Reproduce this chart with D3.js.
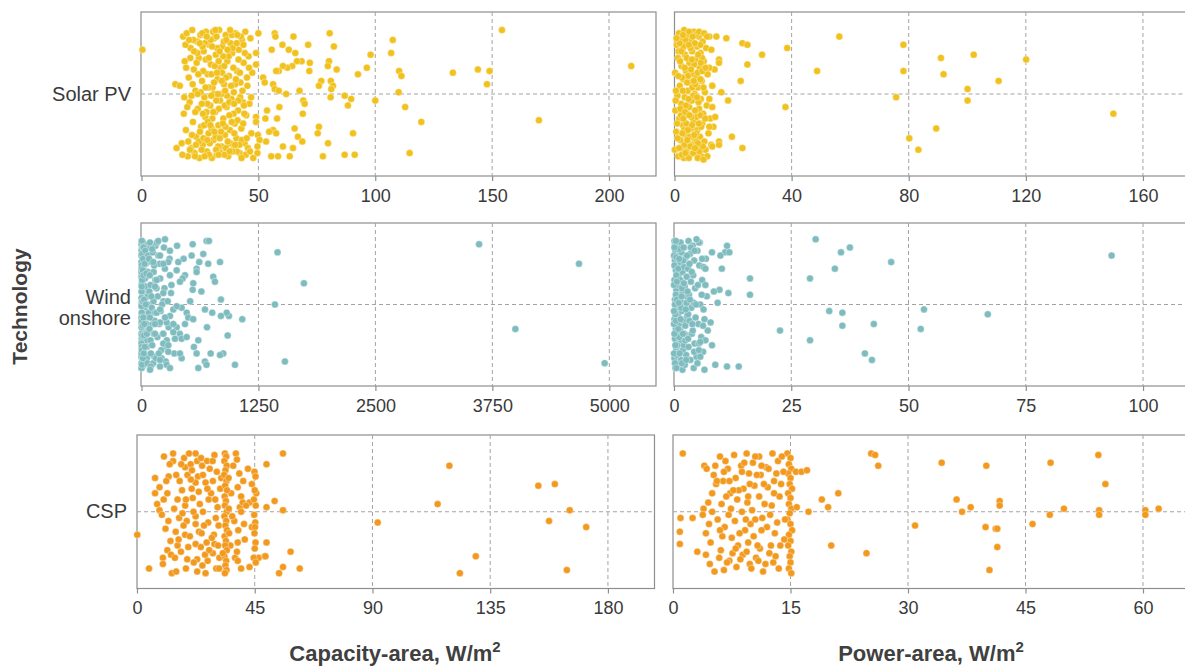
<!DOCTYPE html>
<html>
<head>
<meta charset="utf-8">
<script src="https://cdn.jsdelivr.net/npm/d3@7/dist/d3.min.js"></script>
<style>
  html, body { margin: 0; padding: 0; background: #ffffff; }
  svg { display: block; }
  text { font-family: "Liberation Sans", Arial, sans-serif; }
</style>
</head>
<body>
<svg id="chart" width="1185" height="666"></svg>
<script>
// ---------------- DATA (value, jitter) ----------------
const technologies = ["Solar PV", "Wind onshore", "CSP"];
const techLabelLines = [["Solar PV"], ["Wind", "onshore"], ["CSP"]];
const xTitles = ["Capacity-area, W/m", "Power-area, W/m"];

const ticksSolarCapacity = [0, 50, 100, 150, 200];
const ticksSolarPower = [0, 40, 80, 120, 160];
const ticksWindCapacity = [0, 1250, 2500, 3750, 5000];
const ticksWindPower = [0, 25, 50, 75, 100];
const ticksCspCapacity = [0, 45, 90, 135, 180];
const ticksCspPower = [0, 15, 30, 45, 60];

const solarCapacity = [
[0.4,-0.27],[14.5,-0.06],[15,0.33],
[16.4,-0.05],[17.2,0.30],[17.8,-0.35],[18.1,0.12],[18.5,-0.20],[19.0,0.22],[19.3,-0.37],[19.8,0.38],[20.2,-0.10],[20.6,0.05],
[21.0,-0.28],[21.3,0.33],[21.7,-0.39],[22.0,0.17],[22.4,-0.15],[22.7,0.36],[23.1,-0.02],[23.4,0.26],[23.8,-0.32],[24.1,0.09],
[24.5,-0.22],[24.8,0.39],[25.2,-0.36],[25.5,0.20],[25.9,-0.08],[26.2,0.31],[26.6,-0.26],[26.9,0.02],[27.3,0.14],[27.6,-0.38],
[28.0,0.35],[28.3,-0.12],[28.7,0.24],[29.0,-0.30],[29.4,0.07],[29.7,-0.18],[30.1,0.39],[30.4,-0.04],[30.8,0.28],[31.1,-0.34],
[31.5,0.11],[31.8,-0.24],[32.2,0.37],[32.5,-0.09],[32.9,0.19],[33.2,-0.39],[33.6,0.04],[33.9,-0.16],[34.3,0.32],[34.6,-0.29],
[35.0,0.15],[35.3,-0.06],[35.7,0.25],[36.0,-0.36],[36.4,0.08],[36.7,-0.20],[37.1,0.38],[37.4,-0.11],[37.8,0.22],[38.1,-0.31],
[38.5,0.03],[38.8,-0.25],[39.2,0.34],[39.5,-0.01],[39.9,0.18],[40.2,-0.37],[40.6,0.27],[40.9,-0.14],[41.3,0.10],[41.6,-0.27],
[42.0,0.36],[42.3,-0.07],[42.7,0.21],[43.0,-0.33],[43.4,0.05],[43.7,-0.19],[44.1,0.30],[44.4,-0.38],[44.8,0.13],[45.1,-0.10],
[45.5,0.33],[45.8,-0.23],[46.2,0.06],[46.6,-0.34],[47.0,0.24],[47.4,-0.13],[47.8,0.39],
[22.2,-0.33],[23.0,0.11],[23.9,-0.25],[24.6,0.29],[25.3,-0.01],[26.0,-0.37],[26.8,0.19],[27.5,-0.21],[28.2,0.06],[28.9,0.37],
[29.6,-0.33],[30.3,0.15],[31.0,-0.07],[31.7,0.26],[32.4,-0.28],[33.1,0.09],[33.8,0.36],[34.5,-0.13],[35.2,-0.32],[35.9,0.20],
[36.6,0.01],[37.3,-0.23],[38.0,0.30],[38.7,-0.36],[39.4,0.12],[40.1,-0.06],[40.8,0.35],[41.5,-0.21],[42.2,0.02],[42.9,0.28],
[43.6,-0.30],[19.6,0.08],[20.9,-0.22],[21.6,0.25],[18.8,-0.30],[17.5,0.37],
[24.0,0.00],[25.7,0.34],[27.1,-0.31],[28.6,-0.04],[30.0,0.21],[31.4,-0.17],[32.8,0.32],[34.1,0.00],[34.9,-0.23],[35.5,0.37],
[36.2,-0.10],[37.6,0.13],[38.3,-0.05],[39.0,-0.28],[39.7,0.24],[33.4,-0.26],[32.0,0.04],[30.6,-0.38],[29.2,0.30],[27.8,0.11],
[26.4,-0.14],[25.0,0.23],[23.6,-0.19],[22.9,0.38],[21.4,0.01],[20.0,0.29],[41.1,0.16],[43.2,-0.02],[44.6,0.37],[46.0,-0.16],
[36.9,0.29],[35.6,0.07],[34.0,0.23],[33.0,-0.20],[31.9,0.34],[30.9,0.00],[29.9,-0.12],[28.4,0.17],[27.0,0.38],[26.1,-0.29],
[37.9,-0.39],[38.9,0.35],[40.4,-0.09],[41.9,0.31],[42.5,-0.35],[44.0,0.12],[45.3,-0.05],[46.9,0.02],
[20.4,-0.33],[21.9,-0.06],[23.3,0.31],[24.3,-0.12],[25.8,0.06],[26.5,0.27],[27.4,-0.04],[28.8,-0.22],[29.5,0.19],[30.2,-0.29],
[31.2,0.23],[32.1,-0.35],[32.7,0.00],[33.5,0.27],[34.4,-0.08],[35.4,-0.17],[36.1,0.33],[36.8,-0.27],[37.5,0.05],[38.6,0.17],
[39.3,-0.16],[40.0,0.31],[40.7,-0.31],[41.4,0.04],[42.1,-0.13],[42.8,0.39],[43.5,0.18],[44.2,-0.25],[45.0,0.27],[46.4,0.35],
[19.1,-0.16],[18.3,0.02],[20.7,0.34],[22.5,-0.26],[24.9,-0.31],[26.3,0.12],[28.1,0.28],[29.8,0.01],[31.6,-0.39],[33.0,0.37],
[34.8,0.18],[36.3,-0.33],[37.7,0.35],[39.6,0.06],[41.0,-0.36],[43.8,0.07],[30.7,0.11],[32.3,-0.13],[35.8,-0.02],[27.9,-0.35],
[50,-0.37],[49,-0.25],[49,-0.18],[57,-0.37],[57.3,-0.35],[60.3,-0.30],[55.7,-0.27],[63,-0.27],[65,-0.35],[65.8,-0.25],
[71.3,-0.30],[68.5,-0.20],[66.5,-0.2],[64.5,-0.17],[62.4,-0.16],[60.5,-0.17],[58.7,-0.14],[57.6,-0.14],[71.8,-0.14],[72,-0.19],
[80.5,-0.37],[82.3,-0.29],[80.2,-0.2],[79.7,-0.17],[83.5,-0.15],[92.6,-0.12],[96.4,-0.16],[98,-0.24],[76.9,-0.08],[75.9,-0.05],
[81,-0.08],[81.9,-0.05],[81.2,-0.03],[52,-0.1],[52.7,-0.07],[56.3,-0.06],[57,-0.03],[58.7,-0.02],[61.9,0.0],[67.6,-0.02],
[69.2,0.04],[69.8,0.06],[86.9,0.01],[89.7,0.03],[88.3,0.07],[80.9,0.02],[100,0.04],[59,0.08],[53.7,0.1],[53,0.15],
[49,0.14],[49,0.17],[58,0.15],[69,0.12],[65.5,0.21],[75.9,0.2],[75.4,0.24],[56.3,0.22],[57.6,0.24],[54.6,0.23],
[49.8,0.25],[50.5,0.28],[53.3,0.29],[66.9,0.26],[68.8,0.29],[60.5,0.32],[64.8,0.33],[79.8,0.30],[90.5,0.24],[86.9,0.37],
[91.2,0.37],[77.6,0.38],[63.4,0.38],[58.4,0.38],[55.5,0.38],[49.6,0.36],[49.6,0.32],
[107.5,-0.33],[106.8,-0.25],[110.2,-0.14],[111.2,-0.11],[110,-0.01],[112.8,0.08],[119.7,0.17],[114.7,0.36],
[133.2,-0.13],[143.9,-0.15],[148.9,-0.14],[147.8,-0.06],[154.2,-0.39],[170,0.16],[209.5,-0.17]
];

const solarPower = [
[0.2,-0.13],[0.3,0.10],[0.1,0.34],[0.6,0.23],[0.8,-0.30],[1.0,0.01],[1.2,-0.22],[1.3,0.38],[1.5,-0.37],[1.6,0.15],
[1.8,-0.05],[2.0,0.28],[2.1,-0.34],[2.3,0.06],[2.4,-0.17],[2.6,0.33],[2.7,-0.27],[2.9,0.19],[3.0,-0.09],[3.2,0.39],
[3.3,-0.39],[3.5,0.02],[3.6,-0.24],[3.8,0.25],[3.9,-0.14],[4.1,0.35],[4.2,-0.31],[4.4,0.12],[4.5,-0.02],[4.7,0.30],
[4.8,-0.36],[5.0,0.08],[5.1,-0.19],[5.3,0.37],[5.4,-0.07],[5.6,0.21],[5.7,-0.33],[5.9,0.04],[6.0,-0.26],[6.2,0.31],
[6.3,-0.12],[6.5,0.17],[6.6,-0.38],[6.8,0.27],[6.9,0.00],[7.1,-0.21],[7.2,0.36],[7.4,-0.10],[7.5,0.14],[7.7,-0.29],
[7.8,0.22],[8.0,-0.04],[8.1,0.33],[8.3,-0.35],[8.4,0.09],[8.6,-0.16],[8.7,0.26],[8.9,-0.25],[9.0,0.03],[9.2,0.38],
[9.3,-0.08],[9.5,0.18],[9.6,-0.32],[9.8,0.12],[10.0,-0.20],[10.2,0.29],[10.4,-0.01],[10.6,0.34],[10.8,-0.28],[11.0,0.07],
[11.3,-0.12],[11.6,0.24],[11.9,-0.35],[12.2,0.15],[12.5,0.31],[12.9,-0.05],[13.3,0.20],[13.7,-0.15],
[1.1,0.27],[1.9,-0.20],[2.2,0.13],[2.8,-0.02],[3.4,0.31],[3.7,-0.33],[4.0,0.18],[4.6,-0.11],[4.9,0.39],[5.5,-0.28],
[5.8,0.14],[6.1,-0.04],[6.4,0.36],[6.7,-0.18],[7.0,0.10],[7.3,-0.36],[7.6,0.29],[7.9,-0.13],[8.2,0.05],[8.5,0.35],
[8.8,-0.30],[9.1,0.20],[9.4,-0.22],[9.7,0.32],[0.5,-0.02],[2.5,0.37],[3.1,-0.29],[5.2,0.26],[6.9,-0.31],[8.4,-0.38],
[4.3,-0.07],[3.9,0.07],[5.6,-0.15],[6.4,0.01],[2.6,-0.10],[7.4,0.24],[8.9,0.13],[1.4,-0.26],[10.1,-0.37],[11.2,0.38],
[3.3,0.22],[4.4,0.28],[5.0,-0.38],[6.0,0.19],[7.1,-0.06],[2.0,0.09],[8.0,0.30],[9.5,-0.14],[10.5,0.15],[4.8,0.03],
[0.4,0.04],[0.9,0.18],[1.7,-0.31],[2.9,-0.36],[3.6,0.11],[4.2,-0.22],[4.6,0.22],[5.4,0.32],[5.9,-0.21],[6.6,-0.08],
[7.0,0.33],[7.7,0.02],[8.3,0.18],[8.9,-0.09],[9.9,-0.04],[1.3,-0.11],[2.3,-0.26],[3.0,0.15],[3.7,0.36],[4.9,-0.30],
[6.2,-0.35],[7.9,0.39],[9.0,-0.19],[0.7,-0.34],[1.6,0.33],[2.7,0.24],[5.1,0.13],[6.7,0.25],[3.5,-0.16],[8.1,-0.24],
[11.1,-0.35],[14.3,-0.35],[17.7,-0.34],[23.2,-0.31],[24.9,-0.30],[29.9,-0.24],[38.5,-0.28],[24.9,-0.18],[22.6,-0.08],[16,-0.01],
[18.3,0.04],[37.9,0.08],[19.6,0.26],[23.2,0.33],[9.9,0.40],[12.6,-0.27],[15.2,-0.21],[15.2,-0.19],[11.9,-0.16],[10.6,-0.16],
[12.9,-0.05],[11.9,0.03],[12.9,0.08],[13.9,0.14],[11.9,0.2],[15.2,0.29],[15.2,0.31],[12.9,0.32],
[48.7,-0.14],[56.3,-0.35],[78.2,-0.30],[78.2,-0.14],[75.7,0.02],[80.2,0.27],[83.3,0.34],[89.4,0.21],[91,-0.22],[91.9,-0.12],
[102.2,-0.24],[100.1,-0.03],[100.1,0.04],[110.7,-0.08],[120.1,-0.21],[149.9,0.12]
];

const windCapacity = [
[2,-0.39],[8,-0.36],[15,-0.33],[4,-0.30],[22,-0.27],[10,-0.24],[30,-0.21],[6,-0.18],[18,-0.15],[1,-0.12],
[26,-0.09],[12,-0.06],[35,-0.03],[3,0.00],[20,0.03],[9,0.06],[28,0.09],[5,0.12],[16,0.15],[40,0.18],
[2,0.21],[24,0.24],[11,0.27],[32,0.30],[7,0.33],[19,0.36],[1,0.39],
[14,-0.38],[3,-0.34],[27,-0.31],[9,-0.28],[45,-0.25],[0,-0.22],[17,-0.19],[38,-0.16],[6,-0.13],
[23,-0.10],[50,-0.07],[13,-0.04],[2,-0.01],[33,0.02],[8,0.05],[44,0.08],[1,0.11],[21,0.14],[10,0.17],
[29,0.20],[4,0.23],[55,0.26],[15,0.29],[0,0.32],[36,0.35],[12,0.38],
[60,-0.35],[70,-0.20],[65,0.00],[75,0.16],[58,0.33],[48,-0.29],[52,0.12],[42,-0.11],[62,0.22],[68,-0.05],
[5,-0.26],[25,0.37],[31,-0.37],[18,0.27],[0,0.01],[0,-0.30],[0,0.18],[1,-0.17],[3,0.30],[6,-0.08],
[0,-0.37],[1,-0.33],[0,-0.26],[2,-0.24],[0,-0.20],[1,-0.08],[0,-0.04],[2,0.05],[0,0.08],[1,0.14],
[0,0.24],[2,0.26],[0,0.36],[1,0.30],[0,0.39],
[5,-0.39],[7,-0.31],[4,-0.22],[6,-0.15],[8,-0.02],[5,0.10],[7,0.19],[4,0.28],[6,0.37],[3,-0.11],
[12,-0.35],[14,-0.21],[11,-0.02],[13,0.13],[15,0.33],[17,-0.28],[19,0.08],[22,-0.18],[24,0.30],[27,-0.03],
[30,0.12],[33,-0.25],[36,0.26],[26,0.19],[21,-0.35],
[40,-0.33],[46,0.00],[52,-0.19],[58,0.18],[64,0.36],[72,-0.30],[78,0.05],[84,-0.08],[96,0.22],[108,-0.26],
[118,0.12],[128,-0.02],[138,0.32],[148,-0.15],[175,-0.05],[195,-0.25],[215,0.33],[235,-0.02],[265,0.26],[320,-0.12],
[350,0.30],[380,-0.36],[410,0.18],[450,-0.28],[520,-0.02],[560,0.26],[640,-0.08],[700,0.14],
[91,-0.38],[80,-0.28],[95,-0.12],[110,0.02],[85,0.15],[100,0.30],[120,-0.32],[130,-0.20],[105,-0.05],[140,0.10],
[115,0.25],[125,0.36],[150,-0.36],[160,-0.10],[145,0.05],[170,0.20],[135,-0.24],[155,0.33],[90,0.08],[180,-0.30],
[190,0.12],[200,-0.16],[210,0.28],[220,0.00],[240,-0.35],[230,0.18],[250,-0.22],[260,0.35],[280,-0.02],[270,0.22],
[115,-0.34],[98,0.38],[88,-0.18],[132,0.18],[165,-0.38],[205,0.04],[245,-0.10],[290,0.14],[300,-0.28],[185,0.30],
[1454,-0.32],[1736,-0.13],[1426,0.0],[1533,0.35],[1077,0.09],[999,0.37],[921,0.19],[874,0.30],[839,0.31],[839,-0.26],
[849,-0.03],[934,0.07],[910,0.05],[849,0.07],[756,0.05],[678,0.03],[739,0.30],[767,-0.17],[785,-0.14],[696,-0.39],
[721,-0.39],[660,-0.31],[713,-0.25],[617,-0.26],[589,-0.22],[589,-0.20],[547,-0.37],[536,-0.30],[553,-0.13],[547,-0.09],
[465,-0.18],[440,-0.16],[411,-0.14],[393,-0.26],[376,-0.21],[304,-0.33],[286,-0.26],[304,-0.18],[315,-0.07],[233,-0.07],
[179,-0.39],[251,-0.40],[198,-0.30],[233,-0.25],[126,-0.26],[162,-0.15],[144,-0.11],
[429,0.02],[483,0.05],[500,0.08],[553,0.09],[465,0.12],[376,0.14],[340,0.17],[358,0.21],[429,0.21],[483,0.20],
[607,0.22],[589,0.30],[678,0.35],[695,0.37],[607,0.39],[429,0.33],[411,0.30],[286,0.29],[269,0.37],[198,0.38],
[304,0.39],[198,0.34],[91,0.40],[233,0.24],[286,0.25],[269,0.11],[233,0.18],[144,0.18],[162,0.05],[198,0.03],
[340,0.03],[376,0.01],[304,0.07],[251,0.08],[198,0.11],[144,0.12],[340,0.12],
[3608,-0.37],[4676,-0.25],[3996,0.15],[4950,0.36]
];

const windPower = [
[0.1,-0.39],[0.3,-0.33],[0.2,-0.27],[0.4,-0.21],[0.1,-0.15],[0.5,-0.09],[0.2,-0.03],[0.3,0.03],[0.1,0.09],[0.4,0.15],
[0.2,0.21],[0.5,0.27],[0.1,0.33],[0.3,0.39],
[0.7,-0.36],[0.9,-0.30],[0.6,-0.24],[1.0,-0.18],[0.8,-0.12],[1.1,-0.06],[0.7,0.00],[0.9,0.06],[1.2,0.12],[0.6,0.18],
[1.0,0.24],[0.8,0.30],[1.1,0.36],
[1.4,-0.38],[1.6,-0.32],[1.3,-0.26],[1.8,-0.20],[1.5,-0.14],[1.9,-0.08],[1.4,-0.02],[1.7,0.04],[2.0,0.10],[1.3,0.16],
[1.6,0.22],[1.9,0.28],[1.5,0.34],[1.8,0.40],
[2.2,-0.35],[2.5,-0.29],[2.1,-0.23],[2.7,-0.17],[2.3,-0.11],[2.6,-0.05],[2.2,0.01],[2.8,0.07],[2.4,0.13],[2.9,0.19],
[2.1,0.25],[2.6,0.31],[2.3,0.37],
[3.1,-0.39],[3.4,-0.31],[3.0,-0.22],[3.6,-0.14],[3.2,-0.06],[3.7,0.02],[3.3,0.10],[3.8,0.18],[3.1,0.26],[3.5,0.34],
[4.0,-0.36],[4.3,-0.27],[4.1,-0.18],[4.5,-0.10],[4.2,-0.01],[4.6,0.08],[4.0,0.16],[4.4,0.24],[4.8,0.32],[4.2,0.39],
[5.0,-0.33],[5.4,-0.24],[5.1,-0.12],[5.6,0.00],[5.2,0.12],[5.8,0.20],[5.0,0.36],[6.0,-0.15],[6.5,0.09],[7.0,-0.05],
[6.2,0.29],[7.2,0.16],[5.5,-0.38],[6.8,-0.28],
[0.2,-0.36],[0.5,-0.18],[0.3,0.06],[0.6,0.31],[1.2,-0.34],[1.5,0.02],[2.0,-0.27],[2.4,0.22],[3.0,0.06],[3.6,-0.35],
[1.1,0.20],[2.7,-0.01],[0.4,-0.06],[0.8,0.37],[1.7,-0.10],
[0.0,-0.30],[0.1,-0.24],[0.0,-0.12],[0.2,0.00],[0.0,0.12],[0.1,0.18],[0.0,0.30],[0.2,0.36],[0.1,-0.35],[0.0,0.04],
[0.4,-0.39],[0.5,-0.29],[0.6,-0.03],[0.4,0.10],[0.7,0.25],[0.5,0.39],[0.9,-0.22],[1.0,-0.01],[0.9,0.15],[1.3,-0.15],
[1.2,0.30],[1.6,-0.05],[1.4,0.09],[1.7,0.36],[2.0,-0.35],[2.1,-0.13],[2.2,0.18],[2.5,0.03],[2.8,-0.30],[2.6,0.34],
[3.3,-0.25],[3.0,0.21],[3.4,-0.03],[3.9,0.12],[3.8,-0.20],[4.4,-0.33],[4.7,0.00],[4.3,0.29],[5.3,0.24],[5.9,-0.06],
[1.1,-0.28],[0.3,0.25],[1.9,0.18],[2.9,-0.08],[0.6,-0.14],
[11.3,-0.36],[10.9,-0.32],[11.8,-0.32],[9.9,-0.30],[8.1,-0.32],[10.2,-0.22],[16.2,-0.16],[16.2,-0.06],[11.6,-0.07],[9.7,-0.09],
[8.5,-0.08],[9.3,-0.01],[22.6,0.16],[7.8,0.11],[6.2,0.13],[8.1,0.25],[8.8,0.37],[11.3,0.38],[13.8,0.38],[6.5,0.40],
[6.7,0.22],[5.6,0.23],[5.3,0.28],[5.6,0.32],[6.3,0.03],[6.7,-0.12],[6.3,-0.23],[6.7,-0.22],[6.0,-0.28],[5.3,-0.38],[4.8,-0.40],
[30.2,-0.40],[29.0,-0.16],[29.0,0.22],[34.3,-0.22],[35.6,-0.32],[37.5,-0.35],[46.3,-0.26],[33.1,0.04],[35.9,0.05],[35.9,0.13],
[42.6,0.12],[40.7,0.30],[42.2,0.34],[53.3,0.03],[52.6,0.15],[66.9,0.06],[93.3,-0.30]
];

const cspCapacity = [
[0.1,0.15],[4.6,0.37],
[10.3,-0.36],[13.8,-0.38],[13.8,-0.33],[12.5,-0.31],[15.0,-0.24],[12.1,-0.23],[6.9,-0.22],[8.6,-0.16],[6.9,-0.12],[10.2,-0.08],
[7.7,-0.05],[8.6,-0.01],[9.5,0.02],[12.0,0.06],[10.9,0.11],[11.6,0.25],[9.9,0.30],[9.9,0.34],[13.3,0.40],[15.0,0.39],
[13.0,0.28],[15.5,0.22],[15.9,0.18],[14.8,0.13],[16.1,0.04],[15.5,-0.08],[17.4,0.01],[18.4,-0.04],[16.3,-0.20],[18.4,-0.29],
[18.0,-0.35],[19.9,-0.38],[22.4,-0.38],[20.5,-0.31],[19.3,-0.24],[20.9,-0.15],[18.7,-0.08],[19.0,0.06],[18.4,0.15],[16.8,0.26],
[18.7,0.37],[23.0,-0.33],[24.9,-0.30],[23.3,-0.23],[22.4,-0.19],[21.3,-0.09],[24.0,-0.05],[22.4,0.03],[22.4,0.08],[23.7,0.13],
[22.4,0.21],[23.0,0.31],[23.0,0.39],[26.2,0.40],[26.0,0.28],[26.6,0.20],[27.2,0.07],[25.2,0.00],[26.2,-0.19],[27.4,-0.08],
[25.2,-0.24],[29.0,-0.20],[29.6,-0.37],[29.4,0.15],[29.6,0.21],[29.0,0.27],[30.3,0.37],
[21.0,-0.27],[24.5,-0.35],[27.8,-0.28],[20.2,0.16],[25.6,0.09],[28.3,-0.12],[21.7,0.33],[27.0,0.32],[30.8,-0.03],[31.2,0.09],
[30.5,-0.26],[31.5,0.30],[17.2,-0.14],[19.6,0.23],[14.2,-0.02],[11.2,-0.20],[28.6,0.17],[24.4,0.23],[26.8,-0.33],[31.8,-0.15],
[12.8,0.19],[16.9,-0.31],[19.2,0.31],[21.6,0.00],[23.6,-0.13],[25.0,0.35],[27.6,0.25],[28.9,-0.33],[30.1,0.04],[31.0,0.22],
[17.8,0.09],[20.6,-0.21],[24.7,0.14],[26.9,-0.15],[29.9,-0.08],[32.2,-0.22],[31.4,0.37],[36.0,-0.12],[37.5,0.30],[40.9,0.08],
[42.4,-0.28],[35.7,0.22],[39.3,-0.03],[14.5,0.30],[11.6,-0.12],
[33.6,-0.38],[34.1,-0.36],[33.4,-0.33],[34.3,-0.30],[33.8,-0.27],[33.3,-0.24],[34.2,-0.20],[33.7,-0.17],[34.4,-0.14],[33.5,-0.10],
[34.0,-0.07],[33.6,-0.04],[34.3,0.00],[33.4,0.03],[34.1,0.06],[33.8,0.09],[34.4,0.12],[33.5,0.16],[34.0,0.19],[33.7,0.22],
[34.3,0.25],[33.4,0.29],[34.1,0.32],[33.8,0.35],[34.2,0.38],[33.6,0.40],[35.0,-0.22],[35.2,0.14],[32.8,0.27],[35.1,-0.02],
[37.8,-0.38],[38.2,-0.34],[39.1,-0.25],[38.5,-0.16],[39.8,-0.10],[40.4,-0.06],[43.0,-0.06],[43.9,-0.18],[41.7,-0.04],[39.8,0.0],
[37.2,0.06],[38.7,0.12],[38.5,0.20],[38.2,0.26],[38.5,0.32],[39.8,0.37],[43.0,0.36],[43.9,0.10],[45.6,-0.12],[46.5,0.30],
[48.8,0.29],[36.8,-0.30],[41.2,0.18],[36.4,0.03],[40.6,-0.20],
[44.9,-0.26],[45.3,-0.23],[45.0,-0.14],[44.7,-0.08],[45.4,-0.04],[44.8,0.02],[45.2,0.07],[45.1,0.10],[44.9,0.14],[45.3,0.20],
[45.0,0.24],[44.6,0.30],[45.4,0.33],
[55.8,-0.38],[49.5,-0.31],[52.6,-0.07],[55.8,-0.01],[49.5,-0.03],[58.7,0.26],[55.8,0.36],[54.3,0.40],[62.2,0.37],[49.5,0.20],
[49.1,0.29],[92,0.07],
[119.4,-0.30],[114.9,-0.05],[129.5,0.29],[123.4,0.40],[153.4,-0.17],[159.7,-0.18],[165.4,-0.01],[157.5,0.06],[171.7,0.10],[164.3,0.38]
];

const cspPower = [
[1.25,-0.38],[0.96,0.04],[0.87,0.13],[0.87,0.21],[2.5,0.04],[3.1,0.26],
[4.0,-0.30],[4.3,-0.28],[5.2,-0.24],[5.5,-0.18],[5.0,-0.12],[4.5,-0.06],[3.9,-0.02],[3.8,0.02],[4.6,0.08],[4.2,0.14],
[4.8,0.20],[4.2,0.28],[4.7,0.34],[5.3,0.39],
[14.6,-0.38],[15.0,-0.35],[14.8,-0.31],[15.1,-0.28],[14.7,-0.25],[15.0,-0.22],[14.9,-0.18],[15.2,-0.15],[14.7,-0.12],[15.0,-0.09],
[14.8,-0.05],[15.1,-0.02],[14.9,0.01],[14.6,0.05],[15.0,0.08],[15.2,0.12],[14.8,0.15],[15.0,0.19],[14.7,0.22],[15.1,0.26],
[14.9,0.29],[15.0,0.33],[14.8,0.37],[15.1,0.40],
[6.0,-0.36],[6.4,-0.20],[6.2,-0.05],[6.6,0.10],[6.1,0.25],[6.5,0.38],[7.0,-0.28],[7.3,-0.12],[7.1,0.02],[7.5,0.17],
[7.2,0.32],[7.8,-0.37],[8.0,-0.22],[8.2,-0.08],[7.9,0.06],[8.3,0.22],[8.1,0.36],[8.7,-0.30],[9.0,-0.15],[8.8,0.00],
[9.2,0.12],[8.9,0.28],[9.4,-0.38],[9.7,-0.25],[9.5,-0.06],[9.9,0.08],[9.6,0.20],[9.8,0.34],[10.2,-0.32],[10.4,-0.17],
[10.1,-0.01],[10.5,0.05],[10.3,0.16],[10.6,0.30],[11.0,-0.36],[11.2,-0.24],[11.0,-0.10],[11.4,0.04],[11.1,0.24],[11.5,0.39],
[11.9,-0.29],[12.1,-0.16],[12.0,0.10],[12.3,0.27],[12.7,-0.38],[12.9,-0.20],[12.6,-0.04],[13.0,0.14],[12.8,0.33],[13.4,-0.33],
[13.6,-0.10],[13.3,0.07],[13.7,0.22],[13.5,0.37],[14.1,-0.26],[14.2,0.18],[5.7,0.05],[5.9,0.30],[6.8,-0.10],[7.6,0.27],
[8.5,0.14],[9.1,-0.32],[10.8,0.22],[11.7,-0.05],[12.4,0.02],[13.8,-0.18],[6.3,0.16],[8.4,-0.14],[10.0,0.37],[7.4,-0.02],
[9.3,0.05],[11.3,0.12],[12.2,-0.28],[13.1,0.29],[5.4,-0.30],[6.7,-0.33],[8.6,0.31],[10.7,-0.24],[9.6,-0.10],[11.8,0.34],
[5.0,0.00],[6.0,0.12],[7.2,-0.20],[8.0,0.24],[9.4,0.26],[10.5,-0.36],[11.6,-0.18],[12.5,0.22],[13.9,-0.36],[14.3,0.05],
[5.6,-0.20],[6.9,0.33],[8.8,-0.26],[10.9,0.32],[12.9,-0.12],[13.2,-0.25],[9.8,-0.18],[7.7,-0.14],[11.3,-0.30],[6.5,-0.26],
[15.7,-0.26],[15.8,-0.03],
[16.4,-0.26],[17.1,-0.27],[17.3,0.0],[19.0,-0.08],[19.8,-0.03],[21.1,-0.12],[20.2,0.22],[24.7,0.27],[25.3,-0.38],[25.8,-0.37],
[26.2,-0.30],[30.9,0.09],[34.3,-0.32],[36.2,-0.08],[36.9,0.0],[38.0,-0.03],[40.0,-0.30],[39.9,0.10],[41.2,0.11],[41.4,0.11],
[41.7,-0.07],[41.7,-0.04],[41.4,0.23],[40.4,0.38],[45.9,0.08],[48.2,-0.32],[48.1,0.02],[49.9,-0.02],[54.3,-0.37],[55.2,-0.18],
[54.4,-0.01],[54.4,0.02],[60.3,-0.01],[60.3,0.02],[62.0,-0.02]
];

// ---------------- LAYOUT ----------------
const colors = ["#F1C21F", "#7FBCBF", "#F29A1F"];
const rows = [
  { top: 12,  bottom: 176,   labelY: [100.5],      left: { x0: 141,   x1: 656,    r0: 141.5 }, right: { x0: 674.5, x1: 1189.5, r0: 674.5 } },
  { top: 223, bottom: 386,   labelY: [304, 325],   left: { x0: 141,   x1: 656,    r0: 141.5 }, right: { x0: 674,   x1: 1189,   r0: 674 } },
  { top: 435, bottom: 588.5, labelY: [518],        left: { x0: 137,   x1: 654.5,  r0: 137 },   right: { x0: 673,   x1: 1190,   r0: 673 } }
];
const panelDefs = [
  { row: 0, side: "left",  data: solarCapacity, ticks: ticksSolarCapacity, max: 220.1 },
  { row: 0, side: "right", data: solarPower,    ticks: ticksSolarPower,    max: 175.9 },
  { row: 1, side: "left",  data: windCapacity,  ticks: ticksWindCapacity,  max: 5499 },
  { row: 1, side: "right", data: windPower,     ticks: ticksWindPower,     max: 109.8 },
  { row: 2, side: "left",  data: cspCapacity,   ticks: ticksCspCapacity,   max: 197.8 },
  { row: 2, side: "right", data: cspPower,      ticks: ticksCspPower,      max: 66.0 }
];

const svg = d3.select("#chart");
const frameColor = "#8e8e8e";
const gridColor = "#a3a3a3";
const textColor = "#3a3a3a";

panelDefs.forEach(p => {
  const r = rows[p.row];
  const box = r[p.side];
  const x = d3.scaleLinear().domain([0, p.max]).range([box.r0, box.x1]);
  const y = d3.scaleLinear().domain([-0.5, 0.5]).range([r.top, r.bottom]);
  const g = svg.append("g");

  g.append("rect")
    .attr("x", box.x0).attr("y", r.top)
    .attr("width", box.x1 - box.x0).attr("height", r.bottom - r.top)
    .attr("fill", "none").attr("stroke", frameColor).attr("stroke-width", 1.2);

  g.selectAll(".vg").data(p.ticks.filter(t => t > 0)).enter().append("line")
    .attr("x1", d => x(d)).attr("x2", d => x(d))
    .attr("y1", r.top).attr("y2", r.bottom)
    .attr("stroke", gridColor).attr("stroke-width", 1).attr("stroke-dasharray", "4,3");
  g.append("line")
    .attr("x1", box.x0).attr("x2", box.x1)
    .attr("y1", y(0)).attr("y2", y(0))
    .attr("stroke", gridColor).attr("stroke-width", 1).attr("stroke-dasharray", "4,3");

  const axis = d3.axisBottom(x).tickValues(p.ticks).tickSize(5).tickPadding(8).tickFormat(d3.format("d"));
  const ag = g.append("g").attr("transform", `translate(0,${r.bottom})`).call(axis);
  ag.select(".domain").remove();
  ag.selectAll(".tick line").attr("stroke", frameColor).attr("stroke-width", 1.2);
  ag.selectAll(".tick text")
    .attr("fill", textColor)
    .style("font-size", "18px")
    .style("font-family", "'Liberation Sans', Arial, sans-serif");

  g.selectAll("circle").data(p.data).enter().append("circle")
    .attr("cx", d => x(d[0])).attr("cy", d => y(d[1]))
    .attr("r", 3.5)
    .attr("fill", colors[p.row])
    .attr("stroke", "#ffffff").attr("stroke-width", 0.35);

  if (p.side === "left") {
    const lines = techLabelLines[p.row];
    lines.forEach((ln, i) => {
      svg.append("text")
        .attr("x", box.x0 - 10).attr("y", r.labelY[i])
        .attr("text-anchor", "end")
        .attr("fill", textColor)
        .style("font-size", "20px")
        .text(ln);
    });
  }
});

function addTitle(txt, cx) {
  const t = svg.append("text")
    .attr("x", cx).attr("y", 661)
    .attr("text-anchor", "middle")
    .attr("fill", "#404040")
    .style("font-size", "22px").style("font-weight", "bold");
  t.append("tspan").text(txt);
  t.append("tspan").attr("dy", -9).style("font-size", "15px").text("2");
}
addTitle(xTitles[0], 395);
addTitle(xTitles[1], 931);

svg.append("text")
  .attr("transform", "translate(27,306.5) rotate(-90)")
  .attr("text-anchor", "middle")
  .attr("fill", "#404040")
  .style("font-size", "21px").style("font-weight", "bold")
  .text("Technology");
</script>
</body>
</html>
